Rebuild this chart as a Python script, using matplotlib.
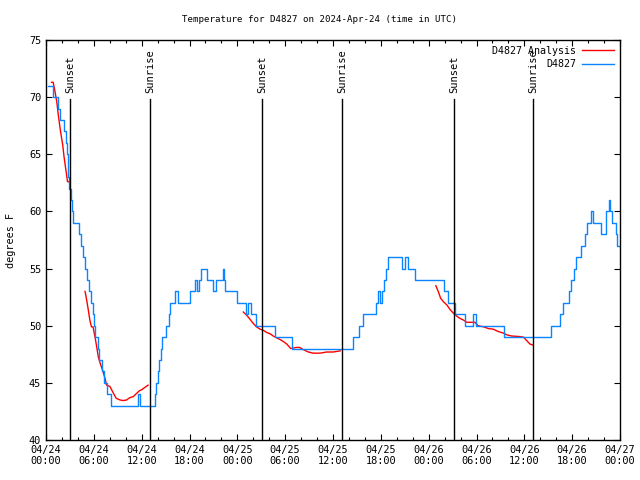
import numpy as np
import pandas as pd
import matplotlib
matplotlib.use('Agg')
from matplotlib import pyplot as plt
import matplotlib.dates as mdates

# time in hours since 2024-04-24 00:00 UTC
start = pd.Timestamp('2024-04-24 00:00')

# D4827 observations (value holds from each time until the next)
obs_hours = [0.3, 0.85, 1.45, 1.75, 2.2, 2.45, 2.6, 2.75, 2.8, 2.9, 3.15, 3.25, 3.35,
             4.1, 4.35, 4.6, 4.85, 5.1, 5.4, 5.65, 5.85, 6.0, 6.2, 6.5, 6.7, 7.0, 7.3, 7.6, 8.1,
             11.5, 11.8, 13.65, 13.85, 14.05, 14.2, 14.4, 14.5, 15.0, 15.4, 15.6, 16.2, 16.5,
             18.1, 18.7, 19.0, 19.2, 19.5, 20.2, 20.9, 21.3, 22.2, 22.35, 22.5, 23.9,
             25.05, 25.4, 25.7, 26.4, 28.7, 30.8, 38.5, 39.2, 39.8, 41.4, 41.7, 41.95, 42.1,
             42.4, 42.65, 42.9, 44.7, 45.05, 45.35, 46.3, 49.9, 50.4, 51.3, 52.5, 53.5, 53.95,
             57.5, 63.4, 64.45, 64.8, 65.6, 65.9, 66.2, 66.45, 67.1, 67.6, 67.9, 68.3, 68.6,
             69.6, 70.3, 70.6, 70.8, 71.0, 71.5, 71.65, 72.0]
obs_temps = [71, 70, 69, 68, 67, 66, 65, 64, 63, 62, 61, 60, 59,
             58, 57, 56, 55, 54, 53, 52, 51, 50, 49, 48, 47, 46, 45, 44, 43,
             44, 43, 44, 45, 46, 47, 48, 49, 50, 51, 52, 53, 52,
             53, 54, 53, 54, 55, 54, 53, 54, 55, 54, 53, 52,
             51, 52, 51, 50, 49, 48, 49, 50, 51, 52, 53, 52, 53,
             54, 55, 56, 55, 56, 55, 54, 53, 52, 51, 50, 51, 50,
             49, 50, 51, 52, 53, 54, 55, 56, 57, 58, 59, 60, 59,
             58, 60, 61, 60, 59, 58, 57, 57]

# D4827 Analysis (NaN separates the segments)
ana_hours = [0.7, 0.9, 1.1, 1.35, 1.55, 1.8, 2.1, 2.26, 2.5, 2.7, 2.9, np.nan,
             4.9, 5.1, 5.3, 5.5, 5.7, 5.9, 6.15, 6.35, 6.55, 6.8, 7.1, 7.4, 7.6, 8.0, 8.45,
             8.8, 9.3, 9.7, 10.1, 10.5, 10.95, 11.4, 11.7, 12.0, 12.4, 12.8, np.nan,
             24.75, 25.2, 25.6, 26.0, 26.4, 26.85, 27.25, 27.7, 28.1, 28.5, 28.9, 29.35, 29.8,
             30.2, 30.7, 31.4, 31.8, 32.3, 32.9, 33.5, 34.4, 35.2, 36.05, 36.9, np.nan,
             48.9, 49.2, 49.5, 49.85, 50.3, 50.7, 51.1, 51.5, 51.9, 52.35, 52.8, 53.4, 53.8,
             54.2, 54.9, 55.5, 56.1, 56.7, 57.4, 57.8, 58.4, 59.4, 59.9, 60.3, 60.7, 61.1]
ana_temps = [71.3, 71.3, 70.6, 69.6, 68.4, 67.1, 65.8, 64.8, 63.6, 62.6, 62.6, np.nan,
             53.0, 52.25, 51.4, 50.5, 49.9, 49.9, 49.0, 48.2, 47.3, 46.7, 46.1, 45.4, 44.8,
             44.7, 44.1, 43.65, 43.5, 43.45, 43.5, 43.7, 43.8, 44.1, 44.3, 44.4, 44.6, 44.8, np.nan,
             51.2, 50.9, 50.55, 50.2, 49.9, 49.7, 49.6, 49.4, 49.3, 49.1, 48.95, 48.8, 48.6,
             48.4, 48.0, 48.1, 48.1, 47.9, 47.7, 47.6, 47.6, 47.7, 47.7, 47.8, np.nan,
             53.5, 53.0, 52.4, 52.1, 51.8, 51.4, 51.1, 50.85, 50.65, 50.5, 50.3, 50.3, 50.3,
             50.0, 49.9, 49.75, 49.7, 49.5, 49.35, 49.2, 49.1, 49.05, 49.0, 48.7, 48.4, 48.3]

sunset_hours = [3.0, 27.1, 51.2]
sunrise_hours = [13.05, 37.1, 61.1]


def to_time(hours):
    return start + pd.to_timedelta(np.array(hours, dtype=float), unit='h')


mono = 'DejaVu Sans Mono'
fig = plt.figure(figsize=(6.4, 4.8), dpi=100)
ax = fig.add_axes([46 / 640, 40 / 480, 574 / 640, 400 / 480])

ax.plot(to_time(ana_hours), ana_temps, color='#ff0000', lw=1.0, label='D4827 Analysis')
ax.plot(to_time(obs_hours), obs_temps, color='#0a84ff', lw=1.0, drawstyle='steps-post',
        label='D4827')

for hrs, name in [(sunset_hours, 'Sunset'), (sunrise_hours, 'Sunrise')]:
    for t in to_time(hrs):
        ax.plot([t, t], [40, 69.8], color='black', lw=1.0)
        ax.text(t, 70.4, name, rotation=90, ha='center', va='bottom',
                family=mono, fontsize=7.5)

ax.set_xlim(start, start + pd.Timedelta(hours=72))
ax.set_ylim(40, 75)
ax.set_yticks(range(40, 76, 5))
ax.xaxis.set_major_locator(mdates.HourLocator(byhour=[0, 6, 12, 18]))
ax.xaxis.set_minor_locator(mdates.HourLocator(interval=2))
ax.xaxis.set_major_formatter(mdates.DateFormatter('%m/%d\n%H:%M'))

ax.tick_params(which='both', direction='in', top=True, right=True, labelsize=7.4)
ax.tick_params(which='major', length=4.3, width=0.8)
ax.tick_params(which='minor', length=2.2, width=0.8)
for lab in ax.get_xticklabels() + ax.get_yticklabels():
    lab.set_family(mono)
for sp in ax.spines.values():
    sp.set_linewidth(1.0)

ax.set_ylabel('degrees F', family=mono, fontsize=7.3)
ax.yaxis.set_label_coords(-0.052, 0.5)
fig.text(0.5, 1 - 19 / 480, 'Temperature for D4827 on 2024-Apr-24 (time in UTC)',
         family=mono, fontsize=6.6, ha='center', va='center')
ax.legend(loc='upper right', frameon=False, markerfirst=False, prop={'family': mono, 'size': 7.2},
          handlelength=3.2, borderaxespad=0.2, labelspacing=0.35, handletextpad=0.6)

fig.savefig('out.png', dpi=100)
